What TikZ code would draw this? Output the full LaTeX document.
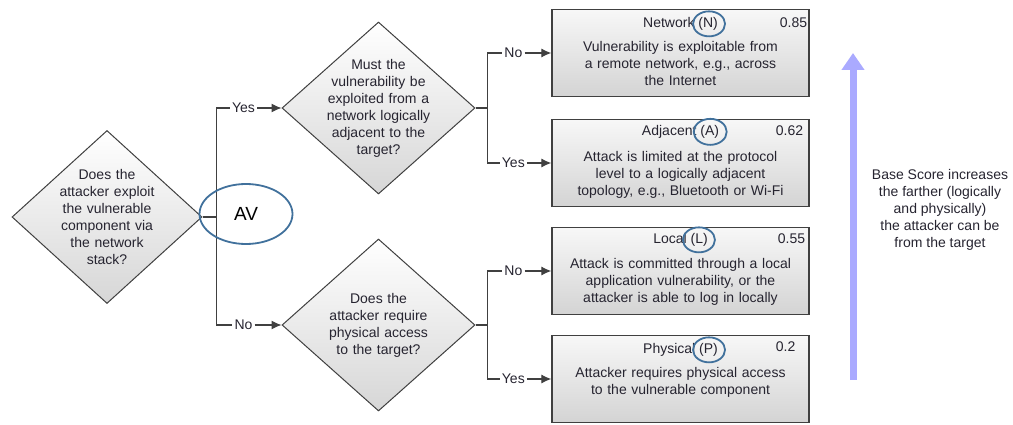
\documentclass[tikz,border=0pt]{standalone}
\usepackage{fontspec}
\setmainfont{Liberation Sans}
\usetikzlibrary{shapes,positioning,calc,arrows.meta}

\definecolor{ringblue}{RGB}{65,113,156}
\definecolor{scorearrow}{RGB}{170,170,255}
\definecolor{linegray}{RGB}{64,64,64}
\definecolor{textdark}{RGB}{38,36,48}

\tikzset{
  question/.style={diamond, draw=linegray, line width=1pt, top color=white,
    bottom color=gray!32, minimum width=193pt, minimum height=172pt, inner sep=0pt},
  qtext/.style={text width=120pt, align=center, inner sep=0pt},
  answer/.style={rectangle, draw=linegray, line width=1.3pt, top color=gray!6,
    bottom color=gray!34, minimum width=257pt, minimum height=87pt, inner sep=0pt},
  title/.style={inner sep=0pt},
  score/.style={anchor=west, inner sep=0pt},
  body/.style={anchor=north, text width=250pt, align=center, inner sep=0pt},
  branch/.style={inner sep=2pt},
  wire/.style={draw=linegray, line width=1.1pt},
  flow/.style={wire, -{Latex[length=10pt,width=9pt]}},
  ring/.style={draw=ringblue, line width=1.8pt}
}

\begin{document}
\begin{tikzpicture}[x=1pt, y=1pt, font=\fontsize{14}{17}\selectfont,
    every node/.append style={text=textdark}]
  \useasboundingbox (0,0) rectangle (1013,424);

  % questions
  \node[question, minimum width=190pt, minimum height=173pt] (qStack) at (107,207) {};
  \node[qtext] (qStackText) at (qStack) {Does the\\ attacker exploit\\ the vulnerable\\
    component via\\ the network\\ stack?};

  \node[question] (qAdjacent) at (378.5,316) {};
  \node[qtext] (qAdjacentText) at (qAdjacent) {Must the\\ vulnerability be\\
    exploited from a\\ network logically\\ adjacent to the\\ target?};

  \node[question] (qPhysical) at (378.5,99) {};
  \node[qtext] (qPhysicalText) at (qPhysical) {Does the\\ attacker require\\
    physical access\\ to the target?};

  % answers
  \node[answer] (aNetwork) at (680.5,371) {};
  \node[title] (tNetwork) at ([yshift=-15pt]aNetwork.north) {Network (N)};
  \node[score] (sNetwork) at ([xshift=-30pt, yshift=-14pt]aNetwork.north east) {0.85};
  \node[body] (bNetwork) at ([yshift=-32pt]aNetwork.north) {Vulnerability is exploitable from\\
    a remote network, e.g., across\\ the Internet};

  \node[answer] (aAdjacent) at (680.5,261) {};
  \node[title] (tAdjacent) at ([yshift=-13pt]aAdjacent.north) {Adjacent (A)};
  \node[score] (sAdjacent) at ([xshift=-34pt, yshift=-12pt]aAdjacent.north east) {0.62};
  \node[body] (bAdjacent) at ([yshift=-32pt]aAdjacent.north) {Attack is limited at the protocol\\
    level to a logically adjacent\\ topology, e.g., Bluetooth or Wi-Fi};

  \node[answer] (aLocal) at (680.5,153) {};
  \node[title] (tLocal) at ([yshift=-13pt]aLocal.north) {Local (L)};
  \node[score] (sLocal) at ([xshift=-32pt, yshift=-12pt]aLocal.north east) {0.55};
  \node[body] (bLocal) at ([yshift=-31pt]aLocal.north) {Attack is committed through a local\\
    application vulnerability, or the\\ attacker is able to log in locally};

  \node[answer] (aPhysical) at (680.5,45) {};
  \node[title] (tPhysical) at ([yshift=-15pt]aPhysical.north) {Physical (P)};
  \node[score] (sPhysical) at ([xshift=-34pt, yshift=-12pt]aPhysical.north east) {0.2};
  \node[body] (bPhysical) at ([yshift=-32pt]aPhysical.north) {Attacker requires physical access\\
    to the vulnerable component};

  % rings round the letters
  \draw[ring] ([xshift=-9pt]tNetwork.east) ellipse (16pt and 12.5pt);
  \draw[ring] ([xshift=-9pt]tAdjacent.east) ellipse (16.5pt and 13pt);
  \draw[ring] ([xshift=-9pt]tLocal.east) ellipse (16pt and 12.5pt);
  \draw[ring] ([xshift=-9pt]tPhysical.east) ellipse (16pt and 12.5pt);

  % branches from the first question
  \node[branch] (yesAdjacent) at ([xshift=-38pt]qAdjacent.west) {Yes};
  \node[branch] (noPhysical) at ([xshift=-38pt]qPhysical.west) {No};
  \draw[wire] (qStack.east) -- ++(14pt,0) |- (yesAdjacent.west);
  \draw[wire] (qStack.east) -- ++(14pt,0) |- (noPhysical.west);
  \draw[flow] (yesAdjacent) -- (qAdjacent.west);
  \draw[flow] (noPhysical) -- (qPhysical.west);

  % branches to the answers
  \node[branch] (noNetwork) at ([xshift=-38pt]aNetwork.west) {No};
  \node[branch] (yesAdj) at ([xshift=-38pt]aAdjacent.west) {Yes};
  \node[branch] (noLocal) at ([xshift=-38pt]aLocal.west) {No};
  \node[branch] (yesPhys) at ([xshift=-38pt]aPhysical.west) {Yes};
  \draw[wire] (qAdjacent.east) -- ++(12pt,0) |- (noNetwork.west);
  \draw[wire] (qAdjacent.east) -- ++(12pt,0) |- (yesAdj.west);
  \draw[wire] (qPhysical.east) -- ++(12pt,0) |- (noLocal.west);
  \draw[wire] (qPhysical.east) -- ++(12pt,0) |- (yesPhys.west);
  \draw[flow] (noNetwork) -- (aNetwork.west);
  \draw[flow] (yesAdj) -- (aAdjacent.west);
  \draw[flow] (noLocal) -- (aLocal.west);
  \draw[flow] (yesPhys) -- (aPhysical.west);

  % AV mark
  \node[draw=ringblue, line width=1.8pt, ellipse, minimum width=93pt, minimum height=60pt,
    font=\fontsize{19}{22}\selectfont, text=black] (av) at (246,210) {AV};

  % score direction
  \coordinate (scoreLow) at (853,44);
  \coordinate (scoreHigh) at (853,371);
  \draw[scorearrow, line width=7pt, -{Triangle[length=17pt,width=22pt]}] (scoreLow) -- (scoreHigh);
  \node[align=center, inner sep=0pt] (scoreText) at (940,214) {Base Score increases\\
    the farther (logically\\ and physically)\\ the attacker can be\\ from the target};
\end{tikzpicture}
\end{document}
